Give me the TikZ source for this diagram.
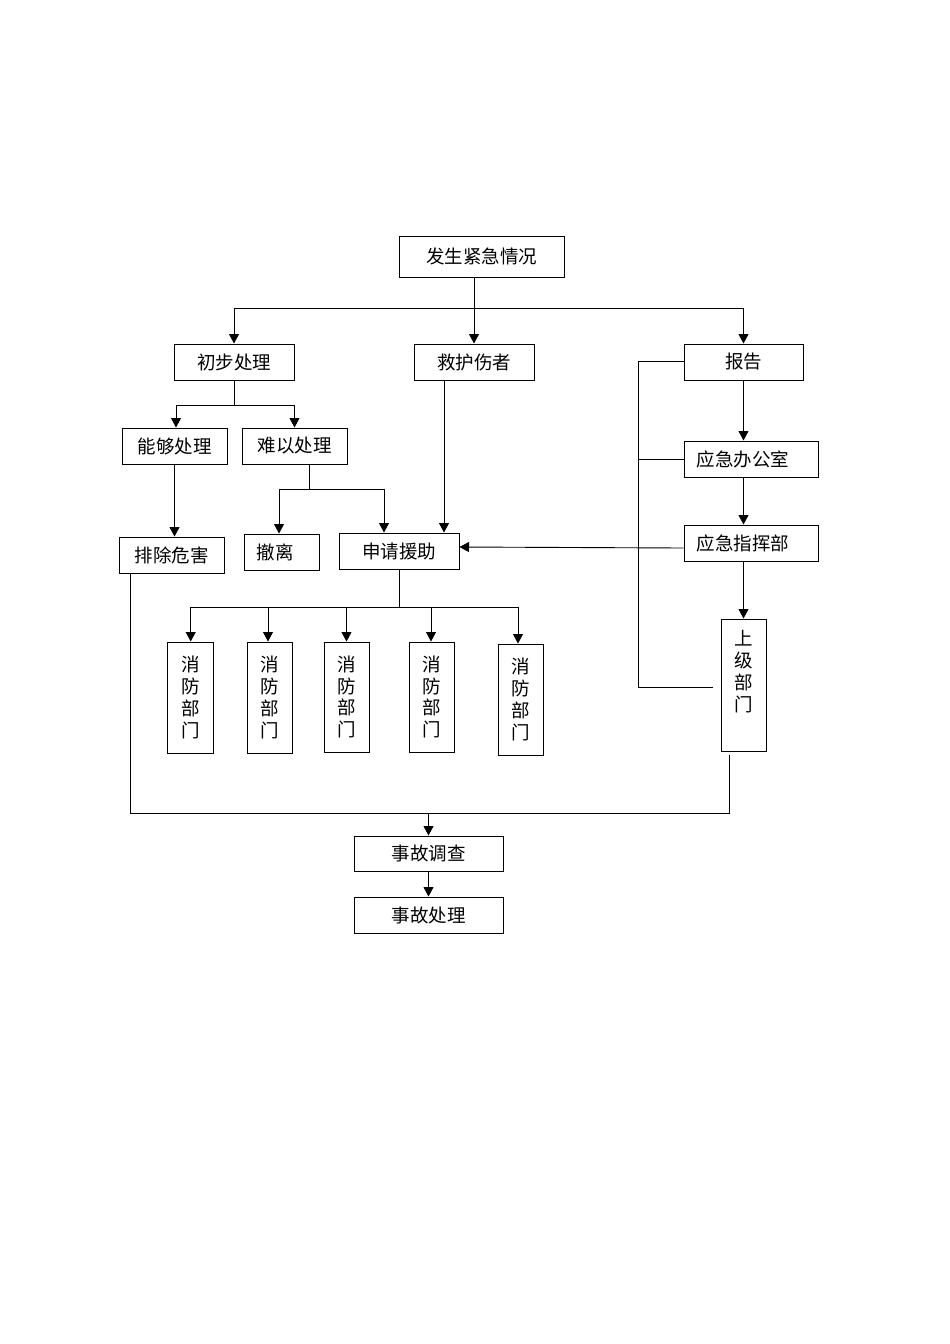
\documentclass[tikz,border=0pt]{standalone}
\usepackage{fontspec}
\newfontfamily\cjk{Noto Sans CJK SC}
\usetikzlibrary{arrows.meta}
\tikzset{
  txt/.style={font=\cjk\fontsize{18.5}{21.9}\selectfont, inner sep=0pt, align=center},
  box/.style={draw, line width=1pt, inner sep=0pt, txt},
  ln/.style={line width=0.9pt},
  arr/.style={line width=0.9pt, -{Triangle[length=9.5pt,width=10pt]}}
}
\begin{document}
\begin{tikzpicture}[x=1pt,y=-1pt]
\useasboundingbox[fill=white] (0,0) rectangle (950,1344);
% boxes
\node[box, minimum width=165pt, minimum height=41pt] (start) at (481.5,256.5) {发生紧急情况};
\node[box, minimum width=120pt, minimum height=36pt] (first) at (234,362) {初步处理};
\node[box, minimum width=120pt, minimum height=36pt] (rescue) at (474,362) {救护伤者};
\node[box, minimum width=119pt, minimum height=36pt] (report) at (743.5,362) {报告};
\node[box, minimum width=105pt, minimum height=36pt] (can) at (174.5,446) {能够处理};
\node[box, minimum width=105pt, minimum height=36pt] (hard) at (294.5,446) {难以处理};
\node[box, minimum width=105pt, minimum height=36pt] (elim) at (171.5,555) {排除危害};
\node[box, minimum width=75pt, minimum height=36pt] (evac) at (281.5,552) {};
\node[txt] (evact) at (275,552) {撤离};
\node[box, minimum width=120pt, minimum height=36pt] (apply) at (399,551) {申请援助};
\node[box, minimum width=134pt, minimum height=36pt] (office) at (751,459) {};
\node[txt] (officet) at (743,459) {应急办公室};
\node[box, minimum width=134pt, minimum height=36pt] (command) at (751,543) {};
\node[txt] (commandt) at (743,543) {应急指挥部};
\node[box, minimum width=45pt, minimum height=132pt] (upper) at (743.5,685) {};
\node[txt] (uppert) at (743.5,671.5) {上\\级\\部\\门};
\node[box, minimum width=45.5pt, minimum height=111pt] (fire1) at (190.7,697.5) {消\\防\\部\\门};
\node[box, minimum width=45pt, minimum height=111pt] (fire2) at (269.5,697.5) {消\\防\\部\\门};
\node[box, minimum width=45pt, minimum height=110pt] (fire3) at (346.5,697) {消\\防\\部\\门};
\node[box, minimum width=45pt, minimum height=110pt] (fire4) at (431.5,697) {消\\防\\部\\门};
\node[box, minimum width=45pt, minimum height=111pt] (fire5) at (520.5,699.5) {消\\防\\部\\门};
\node[box, minimum width=149pt, minimum height=35pt] (inv) at (428.5,853.5) {事故调查};
\node[box, minimum width=149pt, minimum height=36pt] (handle) at (428.5,915) {事故处理};
% top distribution
\coordinate (t1) at (234,308);
\coordinate (t2) at (743.5,308);
\draw[arr] ([xshift=-7.5pt]start.south) -- (rescue.north);
\draw[arr] (t2) -- (t1) -- (first.north);
\draw[arr] (t2) -- (report.north);
% first -> can / hard
\coordinate (f1) at (234,405);
\draw[ln] (first.south) -- (f1);
\draw[arr] (f1) -| ([xshift=1.5pt]can.north);
\draw[arr] (f1) -| (hard.north);
\draw[arr] (can.south) -- (can.south |- elim.north);
% hard -> evac / apply
\coordinate (g1) at (309,489);
\draw[ln] ([xshift=14.5pt]hard.south) -- (g1);
\draw[arr] (g1) -| ([xshift=-2.5pt]evac.north);
\draw[arr] (g1) -| ([xshift=-15pt]apply.north);
% rescue -> apply
\draw[arr] ([xshift=-30pt]rescue.south) -- ([xshift=45pt]apply.north);
% command -> apply
\draw[arr] ([yshift=-5pt]command.west) -- ([yshift=4pt]apply.east);
% report chain
\draw[arr] (report.south) -- (report.south |- office.north);
\draw[arr] (office.south -| report.south) -- (command.north -| report.south);
\draw[arr] (command.south -| upper.north) -- (upper.north);
% left bracket
\coordinate (lb) at (638,687);
\draw[ln] ([yshift=1pt]report.west) -- ([yshift=1pt]report.west -| lb) -- (lb) -- (713,687);
\draw[ln] (office.west) -- (office.west -| lb);
% apply -> fire departments
\coordinate (b) at (399,607);
\coordinate (bl) at (190.7,607);
\coordinate (br) at (518,607);
\draw[ln] (apply.south) -- (b);
\draw[arr] (br) -- (bl) -- (fire1.north);
\draw[arr] (br) -- ([xshift=-2.5pt]fire5.north);
\draw[arr] ([xshift=-1.5pt]fire2.north |- b) -- ([xshift=-1.5pt]fire2.north);
\draw[arr] (fire3.north |- b) -- (fire3.north);
\draw[arr] ([xshift=-0.5pt]fire4.north |- b) -- ([xshift=-0.5pt]fire4.north);
% bottom collection
\coordinate (m) at (428.5,813);
\draw[ln] ([xshift=-40.8pt]elim.south) |- (m);
\draw[ln] ([xshift=-14.5pt,yshift=-3pt]upper.south) |- (m);
\draw[arr] (m) -- (inv.north);
\draw[arr] (inv.south) -- (handle.north);
\end{tikzpicture}
\end{document}
